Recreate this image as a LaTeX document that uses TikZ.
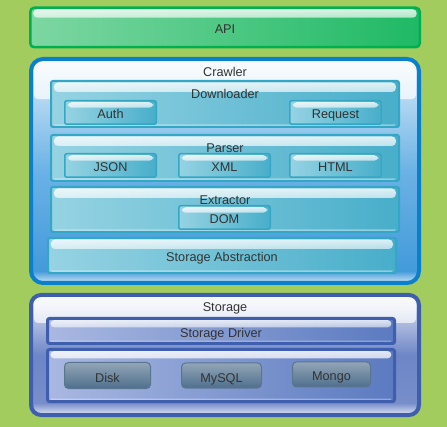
\documentclass[tikz,border=0pt]{standalone}
\usepackage{fontspec}
\setmainfont{Liberation Sans}
\usetikzlibrary{positioning, fadings}

\definecolor{bgGreen}{HTML}{A2CD5E}
\definecolor{textGray}{HTML}{333333}
\definecolor{apiLeft}{HTML}{7DD7A2}
\definecolor{apiRight}{HTML}{1FB964}
\definecolor{apiLine}{HTML}{00B050}
\definecolor{crawlLine}{HTML}{0A7FCC}
\definecolor{crawlTop}{HTML}{D9ECF9}
\definecolor{crawlMid}{HTML}{6BB2E5}
\definecolor{crawlBottom}{HTML}{3E98D9}
\definecolor{modLeft}{HTML}{96D3E2}
\definecolor{modRight}{HTML}{48AECA}
\definecolor{modLine}{HTML}{34A6C6}
\definecolor{storLine}{HTML}{3F5FAE}
\definecolor{storTop}{HTML}{E5E9F6}
\definecolor{storMid}{HTML}{6D86C6}
\definecolor{storBottom}{HTML}{7A90CC}
\definecolor{drvLeft}{HTML}{A9B8E1}
\definecolor{drvRight}{HTML}{5B7AC0}
\definecolor{dbTop}{HTML}{92A5B6}
\definecolor{dbBottom}{HTML}{4F6F8E}
\definecolor{dbLine}{HTML}{5A7590}

\tikzset{
  txt/.style={font=\fontsize{12.7}{14}\selectfont, text=textGray, text height=13pt, text depth=0pt},
  box/.style={draw, inner sep=0pt, outer sep=0pt, txt},
  shine/.style 2 args={path picture={
      \fill[white, path fading=south, fill opacity=.85, rounded corners=4pt]
        ([shift={(3pt,-1.5pt)}]path picture bounding box.north west) rectangle
        ([shift={(-3pt,-#1)}]path picture bounding box.north east);
      \fill[white, path fading=north, fill opacity=.7, rounded corners=2pt]
        ([shift={(3pt,1pt)}]path picture bounding box.south west) rectangle
        ([shift={(-3pt,#2)}]path picture bounding box.south east);
  }},
  title/.style={label={[txt, anchor=center, yshift=-11pt]north:#1}},
  apibar/.style={box, line width=2.5pt, draw=apiLine, rounded corners=4pt,
    left color=apiLeft, right color=apiRight, shine={10pt}{2pt},
    minimum width=389.5pt, minimum height=39.5pt},
  crawlbox/.style={box, line width=4pt, draw=crawlLine, rounded corners=12pt,
    top color=crawlTop, bottom color=crawlBottom, middle color=crawlMid,
    shine={40pt}{12pt}},
  storbox/.style={box, line width=4pt, draw=storLine, rounded corners=10pt,
    top color=storTop, bottom color=storBottom, middle color=storMid,
    shine={28pt}{12pt}},
  module/.style={box, line width=2pt, draw=modLine, rounded corners=2pt,
    left color=modLeft, right color=modRight, shine={11pt}{4pt},
    minimum width=348pt, minimum height=46pt},
  item/.style={box, line width=1.5pt, draw=modLine, rounded corners=2pt,
    left color=modLeft, right color=modRight, shine={7pt}{0pt},
    minimum width=91.5pt, minimum height=23.5pt},
  drvbox/.style={box, line width=3pt, draw=storLine, rounded corners=2pt,
    left color=drvLeft, right color=drvRight, shine={9pt}{4pt},
    minimum width=347pt},
  dbbox/.style={box, line width=1pt, draw=dbLine, rounded corners=4pt,
    top color=dbTop, bottom color=dbBottom, minimum height=25pt}
}

\begin{document}
\begin{tikzpicture}[x=1pt, y=-1pt]
  \useasboundingbox (0,0) rectangle (447,427);
  \fill[bgGreen] (0,0) rectangle (447,427);

  % top layer
  \node[apibar] (api) at (225,27.5) {API};

  % crawler
  \node[crawlbox, title=Crawler, minimum width=388pt, minimum height=224pt] (crawler) at (225,171) {};
  \node[module, title=Downloader] (downloader) at (225,104) {};
  \node[item] (auth) at (110.5,112.5) {Auth};
  \node[item] (request) at (335.5,112.5) {Request};

  \node[module, title=Parser, below=8pt of downloader] (parser) {};
  \node[item] (json) at (110.5,165.5) {JSON};
  \node[item] (xml) at (224.5,165.5) {XML};
  \node[item] (html) at (335.5,165.5) {HTML};

  \node[module, title=Extractor, minimum height=45pt, below=6pt of parser] (extractor) {};
  \node[item] (dom) at (224.5,217.5) {DOM};

  \node[module, minimum height=35pt, below=6pt of extractor, xshift=-3pt] (storeabs) {Storage Abstraction};

  % storage
  \node[storbox, label={[txt, anchor=center, yshift=-10pt]north:Storage},
    minimum width=388pt, minimum height=120pt] (storage) at (225,355) {};
  \node[drvbox, minimum height=25pt] (driver) at (221,331) {Storage Driver};
  \node[drvbox, minimum height=52pt] (backends) at (221,375.5) {};
  \node[dbbox, minimum width=86pt, minimum height=26pt] (disk) at (107.5,375.5) {Disk};
  \node[dbbox, minimum width=80pt] (mysql) at (221.5,375.5) {MySQL};
  \node[dbbox, minimum width=78pt] (mongo) at (331.5,374.5) {Mongo};
\end{tikzpicture}
\end{document}
